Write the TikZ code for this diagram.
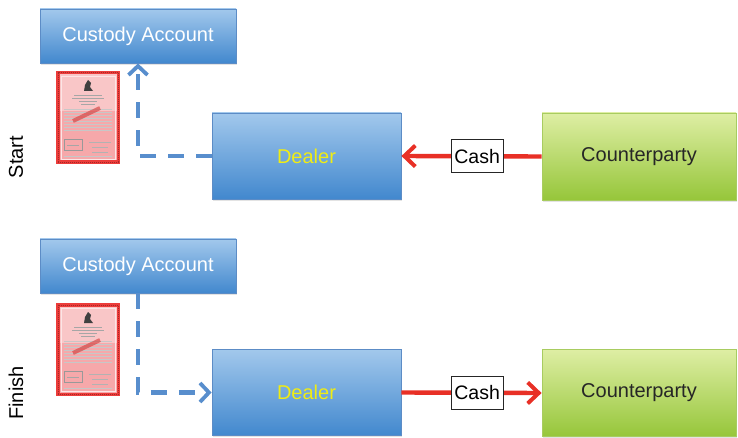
\documentclass[tikz,border=0pt]{standalone}
\usepackage{fontspec}
\setmainfont{Liberation Sans}
\usetikzlibrary{arrows.meta,shadows}

\definecolor{boxblueT}{RGB}{162,200,236}
\definecolor{boxblueB}{RGB}{66,136,206}
\definecolor{boxblueD}{RGB}{92,140,198}
\definecolor{boxgreenT}{RGB}{222,238,164}
\definecolor{boxgreenB}{RGB}{150,198,58}
\definecolor{boxgreenD}{RGB}{168,204,96}
\definecolor{flowblue}{RGB}{88,142,205}
\definecolor{cashred}{RGB}{232,48,38}
\definecolor{dealeryellow}{RGB}{240,236,20}
\definecolor{certred}{RGB}{236,60,58}
\definecolor{certpink}{RGB}{246,168,170}

\tikzset{
  base/.style={rectangle, font=\fontsize{20}{24}\selectfont, inner sep=0pt,
    drop shadow={opacity=0.22, shadow xshift=1.2pt, shadow yshift=-1.6pt}},
  bluebox/.style={base, draw=boxblueD, line width=0.8pt,
    top color=boxblueT, bottom color=boxblueB},
  greenbox/.style={base, draw=boxgreenD, line width=0.8pt,
    top color=boxgreenT, bottom color=boxgreenB, text=black!85},
  custodybox/.style={bluebox, minimum width=196pt, minimum height=54pt, text=white},
  dealerbox/.style={bluebox, minimum width=189pt, minimum height=86pt, text=dealeryellow},
  partybox/.style={greenbox, minimum width=194pt, minimum height=87pt},
  cashtag/.style={rectangle, draw=black!85, line width=1pt, fill=white,
    font=\fontsize{19.5}{23}\selectfont, minimum width=52pt, minimum height=33pt, inner sep=1.5pt},
  secflow/.style={draw=flowblue, line width=4.4pt, dash pattern=on 16pt off 12pt},
  secarrow/.style={-{Straight Barb[length=9pt,width=19pt,line width=3.8pt]}},
  cashflow/.style={draw=cashred, line width=4.4pt,
    -{Straight Barb[length=11pt,width=21pt,line width=4pt]}},
  phase/.style={rotate=90, font=\fontsize{20}{24}\selectfont, inner sep=0pt},
  certificate/.pic={
    % paper with a red ornamental frame
    \fill[certred] (0,0) rectangle (64,93);
    \fill[certpink] (3.5,3.5) rectangle (60.5,89.5);
    \fill[white, opacity=0.35] (3.5,3.5) rectangle (60.5,40);
    \draw[white!70!certpink, line width=0.8pt] (5,5) rectangle (59,88);
    \draw[certred!70!black, line width=0.4pt, dash pattern=on 1pt off 1pt]
      (1.7,1.7) rectangle (62.3,91.3);
    % emblem and heading
    \fill[black!75] (28,20) -- (29,14) -- (32,9) -- (35,12) -- (34,16) -- (37,20) -- cycle;
    \foreach \yy/\ww in {24/28,27/32,30/18,33/14} {
      \draw[black!35, line width=0.6pt] (32-\ww/2,\yy) -- (32+\ww/2,\yy);
    }
    % printed body lines
    \foreach \yy in {38,41,44,47,50,53,56,59} {
      \draw[black!22, line width=0.5pt] (8,\yy) -- (56,\yy);
    }
    % diagonal red stamp
    \draw[certred!90!black, line width=4pt, opacity=0.6] (17,50) -- (44,37);
    % seal box and signature lines
    \draw[black!40, line width=0.6pt] (8,68) rectangle (26,79);
    \draw[black!35, line width=0.5pt] (11,74) -- (23,74);
    \draw[black!30, line width=0.5pt] (33,71) -- (55,71) (36,76) -- (52,76) (36,81) -- (52,81);
    \draw[black!22, line width=0.5pt] (8,85) -- (56,85);
  }
}

\begin{document}
\begin{tikzpicture}[x=1pt,y=-1pt]
  \useasboundingbox (0,0) rectangle (738,438);

  % ---------- start of the trade ----------
  \node[custodybox] (custA) at (138,36) {Custody Account};
  \node[dealerbox] (dealerA) at (306.5,156) {Dealer};
  \node[partybox] (partyA) at (639,156.5) {Counterparty};
  \pic at (56,71) {certificate};
  \node[phase] (startLbl) at (16,157) {Start};

  \draw[secflow, secarrow] (dealerA.west) -| (custA.south);
  \draw[cashflow] (partyA.west) -- node[cashtag, pos=0.46] (cashA) {Cash} (dealerA.east);

  % ---------- end of the trade ----------
  \node[custodybox] (custB) at (138,266) {Custody Account};
  \node[dealerbox] (dealerB) at (306.5,392.5) {Dealer};
  \node[partybox] (partyB) at (639,393) {Counterparty};
  \pic at (56,303) {certificate};
  \node[phase] (finishLbl) at (16,393) {Finish};

  \draw[secflow, secarrow] (custB.south) |- (dealerB.west);
  \draw[cashflow] (dealerB.east) -- node[cashtag, pos=0.54] (cashB) {Cash} (partyB.west);
\end{tikzpicture}
\end{document}
